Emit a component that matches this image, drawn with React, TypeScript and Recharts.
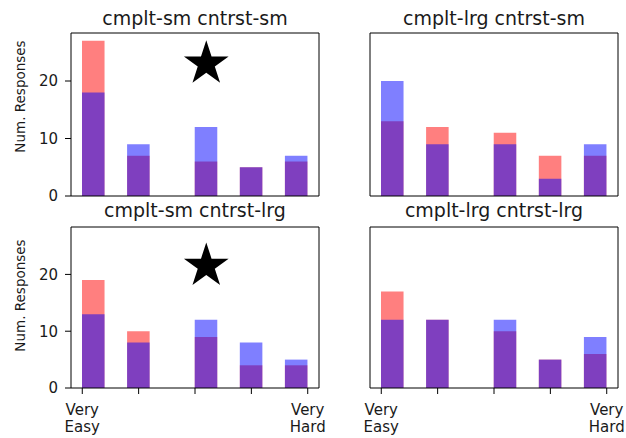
import React from "react";
import { ComposedChart, Bar, Scatter, XAxis, YAxis, ZAxis } from "recharts";

// difficulty ratings (x), shown as a 10-bin histogram like matplotlib's hist()
const RATINGS = [1, 2, 3, 4, 5];
const X_TICK_LABELS = ["Very\nEasy", "", "", "", "Very\nHard"];
const Y_TICKS = [0, 10, 20];
const Y_LABEL = "Num. Responses";

const TITLES = [
  "cmplt-sm cntrst-sm",
  "cmplt-lrg cntrst-sm",
  "cmplt-sm cntrst-lrg",
  "cmplt-lrg cntrst-lrg",
];

// counts per rating, red group and blue group, one pair per panel
const RED_SM_SM = [27, 7, 6, 5, 6];
const BLUE_SM_SM = [18, 9, 12, 5, 7];
const RED_LRG_SM = [13, 12, 11, 7, 7];
const BLUE_LRG_SM = [20, 9, 9, 3, 9];
const RED_SM_LRG = [19, 10, 9, 4, 4];
const BLUE_SM_LRG = [13, 8, 12, 8, 5];
const RED_LRG_LRG = [17, 12, 10, 5, 6];
const BLUE_LRG_LRG = [12, 12, 12, 5, 9];

// star markers
const STAR_SM_SM = [{ x: 3.2, y: 23 }];
const STAR_SM_LRG = [{ x: 3.2, y: 21.5 }];

const N_BINS = 10;
const LO = RATINGS[0];
const HI = RATINGS[RATINGS.length - 1];
const BIN_W = (HI - LO) / N_BINS;
const X_PAD = (HI - LO) * 0.05;
const X_DOMAIN: [number, number] = [LO - X_PAD, HI + X_PAD];
const Y_MAX =
  Math.max(
    ...RED_SM_SM, ...BLUE_SM_SM, ...RED_LRG_SM, ...BLUE_LRG_SM,
    ...RED_SM_LRG, ...BLUE_SM_LRG, ...RED_LRG_LRG, ...BLUE_LRG_LRG
  ) * 1.05;

const binCenter = (r: number) => {
  const i = Math.min(Math.floor((r - LO) / BIN_W + 1e-9), N_BINS - 1);
  return LO + (i + 0.5) * BIN_W;
};

const FONT = "DejaVu Sans";
const INK = "#000";
const TEXT = "#1a1a1a";
const TICK_FS = 15;

// frame axes (top / right) need 1px of room or recharts skips them
const COLS = [
  { left: 0, width: 330, yAxisW: 71, right: 10 },
  { left: 330, width: 296, yAxisW: 40, right: 7 },
];
const ROWS = [
  { top: 0, height: 222, mTop: 32, xAxisH: 26, titleY: 25, yLabelY: 96.5 },
  { top: 220, height: 218, mTop: 6, xAxisH: 50, titleY: 217, yLabelY: 295.5 },
];
const PLOT_W = 248;
const BAR_PX = (PLOT_W * BIN_W) / (X_DOMAIN[1] - X_DOMAIN[0]);
const STAR_AREA = 620;

function XTick(props: any) {
  const { x, y, payload } = props;
  const text = X_TICK_LABELS[RATINGS.indexOf(payload.value)] ?? "";
  const lines = text ? text.split("\n") : [];
  return (
    <text x={x} y={y} textAnchor="middle" fill={TEXT} fontSize={TICK_FS} fontFamily={FONT}>
      {lines.map((l: string, i: number) => (
        <tspan key={i} x={x} dy={i === 0 ? "0.71em" : "1.13em"}>
          {l}
        </tspan>
      ))}
    </text>
  );
}

interface PanelProps {
  row: number;
  col: number;
  red: number[];
  blue: number[];
  star?: { x: number; y: number }[];
}

function Panel({ row, col, red, blue, star }: PanelProps) {
  const r = ROWS[row];
  const c = COLS[col];
  const data = RATINGS.map((v, i) => ({ x: binCenter(v), red: red[i], blue: blue[i] }));
  const showX = row === 1;
  const showY = col === 0;
  return (
    <div style={{ position: "absolute", left: c.left, top: r.top }}>
      <ComposedChart
        width={c.width}
        height={r.height}
        data={data}
        margin={{ top: r.mTop, right: c.right, bottom: 0, left: 0 }}
        style={{ fontFamily: FONT }}
      >
        <XAxis
          xAxisId="bottom"
          type="number"
          dataKey="x"
          domain={X_DOMAIN}
          allowDataOverflow
          ticks={RATINGS}
          interval={0}
          height={r.xAxisH}
          tickSize={6}
          tickMargin={10}
          axisLine={{ stroke: INK }}
          tickLine={{ stroke: INK }}
          tick={showX ? <XTick /> : false}
        />
        <XAxis
          xAxisId="top"
          orientation="top"
          type="number"
          dataKey="x"
          domain={X_DOMAIN}
          allowDataOverflow
          ticks={RATINGS}
          height={1}
          tick={false}
          tickLine={false}
          axisLine={{ stroke: INK }}
        />
        <YAxis
          yAxisId="left"
          type="number"
          domain={[0, Y_MAX]}
          allowDataOverflow
          ticks={Y_TICKS}
          interval={0}
          width={c.yAxisW}
          tickSize={6}
          tickMargin={7}
          axisLine={{ stroke: INK }}
          tickLine={{ stroke: INK }}
          tick={showY ? { fill: TEXT, fontSize: TICK_FS, fontFamily: FONT } : false}
        />
        <YAxis
          yAxisId="right"
          orientation="right"
          type="number"
          domain={[0, Y_MAX]}
          allowDataOverflow
          ticks={Y_TICKS}
          width={1}
          tick={false}
          tickLine={false}
          axisLine={{ stroke: INK }}
        />
        <ZAxis range={[STAR_AREA, STAR_AREA]} />
        <Bar
          xAxisId="bottom"
          yAxisId="left"
          dataKey="red"
          fill="#ff0000"
          fillOpacity={0.5}
          barSize={BAR_PX}
          isAnimationActive={false}
        />
        <Bar
          xAxisId="top"
          yAxisId="right"
          dataKey="blue"
          fill="#0000ff"
          fillOpacity={0.5}
          barSize={BAR_PX}
          isAnimationActive={false}
        />
        {star && (
          <Scatter
            xAxisId="bottom"
            yAxisId="left"
            data={star}
            dataKey="y"
            shape="star"
            fill="#000"
            isAnimationActive={false}
          />
        )}
      </ComposedChart>
    </div>
  );
}

export default function App() {
  return (
    <div
      style={{
        position: "absolute",
        left: 0,
        top: 0,
        width: 626,
        height: 438,
        background: "#fff",
        overflow: "hidden",
      }}
    >
      <Panel row={0} col={0} red={RED_SM_SM} blue={BLUE_SM_SM} star={STAR_SM_SM} />
      <Panel row={0} col={1} red={RED_LRG_SM} blue={BLUE_LRG_SM} />
      <Panel row={1} col={0} red={RED_SM_LRG} blue={BLUE_SM_LRG} star={STAR_SM_LRG} />
      <Panel row={1} col={1} red={RED_LRG_LRG} blue={BLUE_LRG_LRG} />
      <svg
        width={626}
        height={438}
        style={{ position: "absolute", left: 0, top: 0, pointerEvents: "none" }}
      >
        {ROWS.map((r, ri) =>
          COLS.map((c, ci) => (
            <text
              key={`t${ri}${ci}`}
              x={c.left + c.yAxisW + PLOT_W / 2}
              y={r.titleY}
              textAnchor="middle"
              fontFamily={FONT}
              fontSize={19}
              fill={TEXT}
            >
              {TITLES[ri * 2 + ci]}
            </text>
          ))
        )}
        {ROWS.map((r, ri) => (
          <text
            key={`y${ri}`}
            x={20}
            y={r.yLabelY}
            transform={`rotate(-90 20 ${r.yLabelY})`}
            textAnchor="middle"
            dominantBaseline="central"
            fontFamily={FONT}
            fontSize={13.5}
            fill={TEXT}
          >
            {Y_LABEL}
          </text>
        ))}
      </svg>
    </div>
  );
}
